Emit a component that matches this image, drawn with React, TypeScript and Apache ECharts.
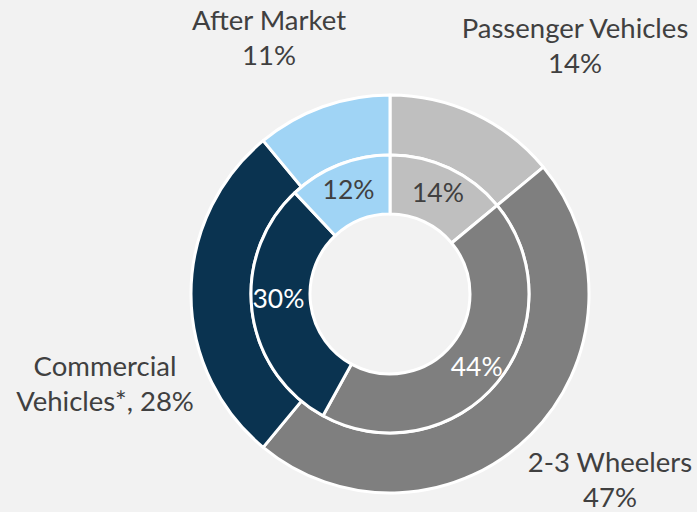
import React, { useEffect, useRef } from "react";
import * as echarts from "echarts";

const CATEGORIES = ["Passenger Vehicles", "2-3 Wheelers", "Commercial Vehicles*", "After Market"];
const OUTER_VALUES = [14, 47, 28, 11];
const INNER_VALUES = [14, 44, 30, 12];
const OUTER_LABELS = ["Passenger Vehicles\n14%", "2-3 Wheelers\n47%", "Commercial\nVehicles*, 28%", "After Market\n11%"];
const COLORS = ["#bfbfbf", "#7f7f7f", "#0a3350", "#a0d4f5"];
const INNER_LABEL_COLORS = ["#404040", "#ffffff", "#ffffff", "#404040"];

// label block centres for the outer ring (layout only)
const OUTER_LABEL_POS = [
  [575, 45],
  [610, 479],
  [105, 383],
  [269, 37],
];

const FONT = "Lato, 'Noto Sans', sans-serif";

export default function App() {
  const ref = useRef<HTMLDivElement>(null);
  useEffect(() => {
    if (!ref.current) return;
    const chart = echarts.init(ref.current, null, { renderer: "svg" });
    chart.setOption({
      animation: false,
      backgroundColor: "#f2f2f2",
      series: [
        {
          type: "pie",
          radius: [139, 199],
          center: [390, 294],
          startAngle: 90,
          clockwise: true,
          avoidLabelOverlap: false,
          itemStyle: { borderColor: "#ffffff", borderWidth: 3 },
          label: {
            show: true,
            position: "outside",
            fontFamily: FONT,
            fontSize: 27.5,
            lineHeight: 35,
            color: "#404040",
            align: "center",
          },
          labelLine: { show: false },
          labelLayout: (params: any) => {
            const p = OUTER_LABEL_POS[params.dataIndex];
            return { x: p[0], y: p[1], align: "center", verticalAlign: "middle" };
          },
          emphasis: { disabled: true },
          data: CATEGORIES.map((name, i) => ({
            name,
            value: OUTER_VALUES[i],
            itemStyle: { color: COLORS[i] },
            label: { formatter: OUTER_LABELS[i] },
          })),
        },
        {
          type: "pie",
          radius: [80, 139],
          center: [390, 294],
          startAngle: 90,
          clockwise: true,
          itemStyle: { borderColor: "#ffffff", borderWidth: 3 },
          label: {
            show: true,
            position: "inside",
            fontFamily: FONT,
            fontSize: 26.5,
            formatter: "{c}%",
          },
          labelLine: { show: false },
          emphasis: { disabled: true },
          data: CATEGORIES.map((name, i) => ({
            name,
            value: INNER_VALUES[i],
            itemStyle: { color: COLORS[i] },
            label: { color: INNER_LABEL_COLORS[i], offset: i === 2 ? [0, -10] : [0, 0] },
          })),
        },
      ],
    });
    return () => chart.dispose();
  }, []);
  return (
    <div
      ref={ref}
      style={{ position: "absolute", left: 0, top: 0, width: 697, height: 512 }}
    />
  );
}
